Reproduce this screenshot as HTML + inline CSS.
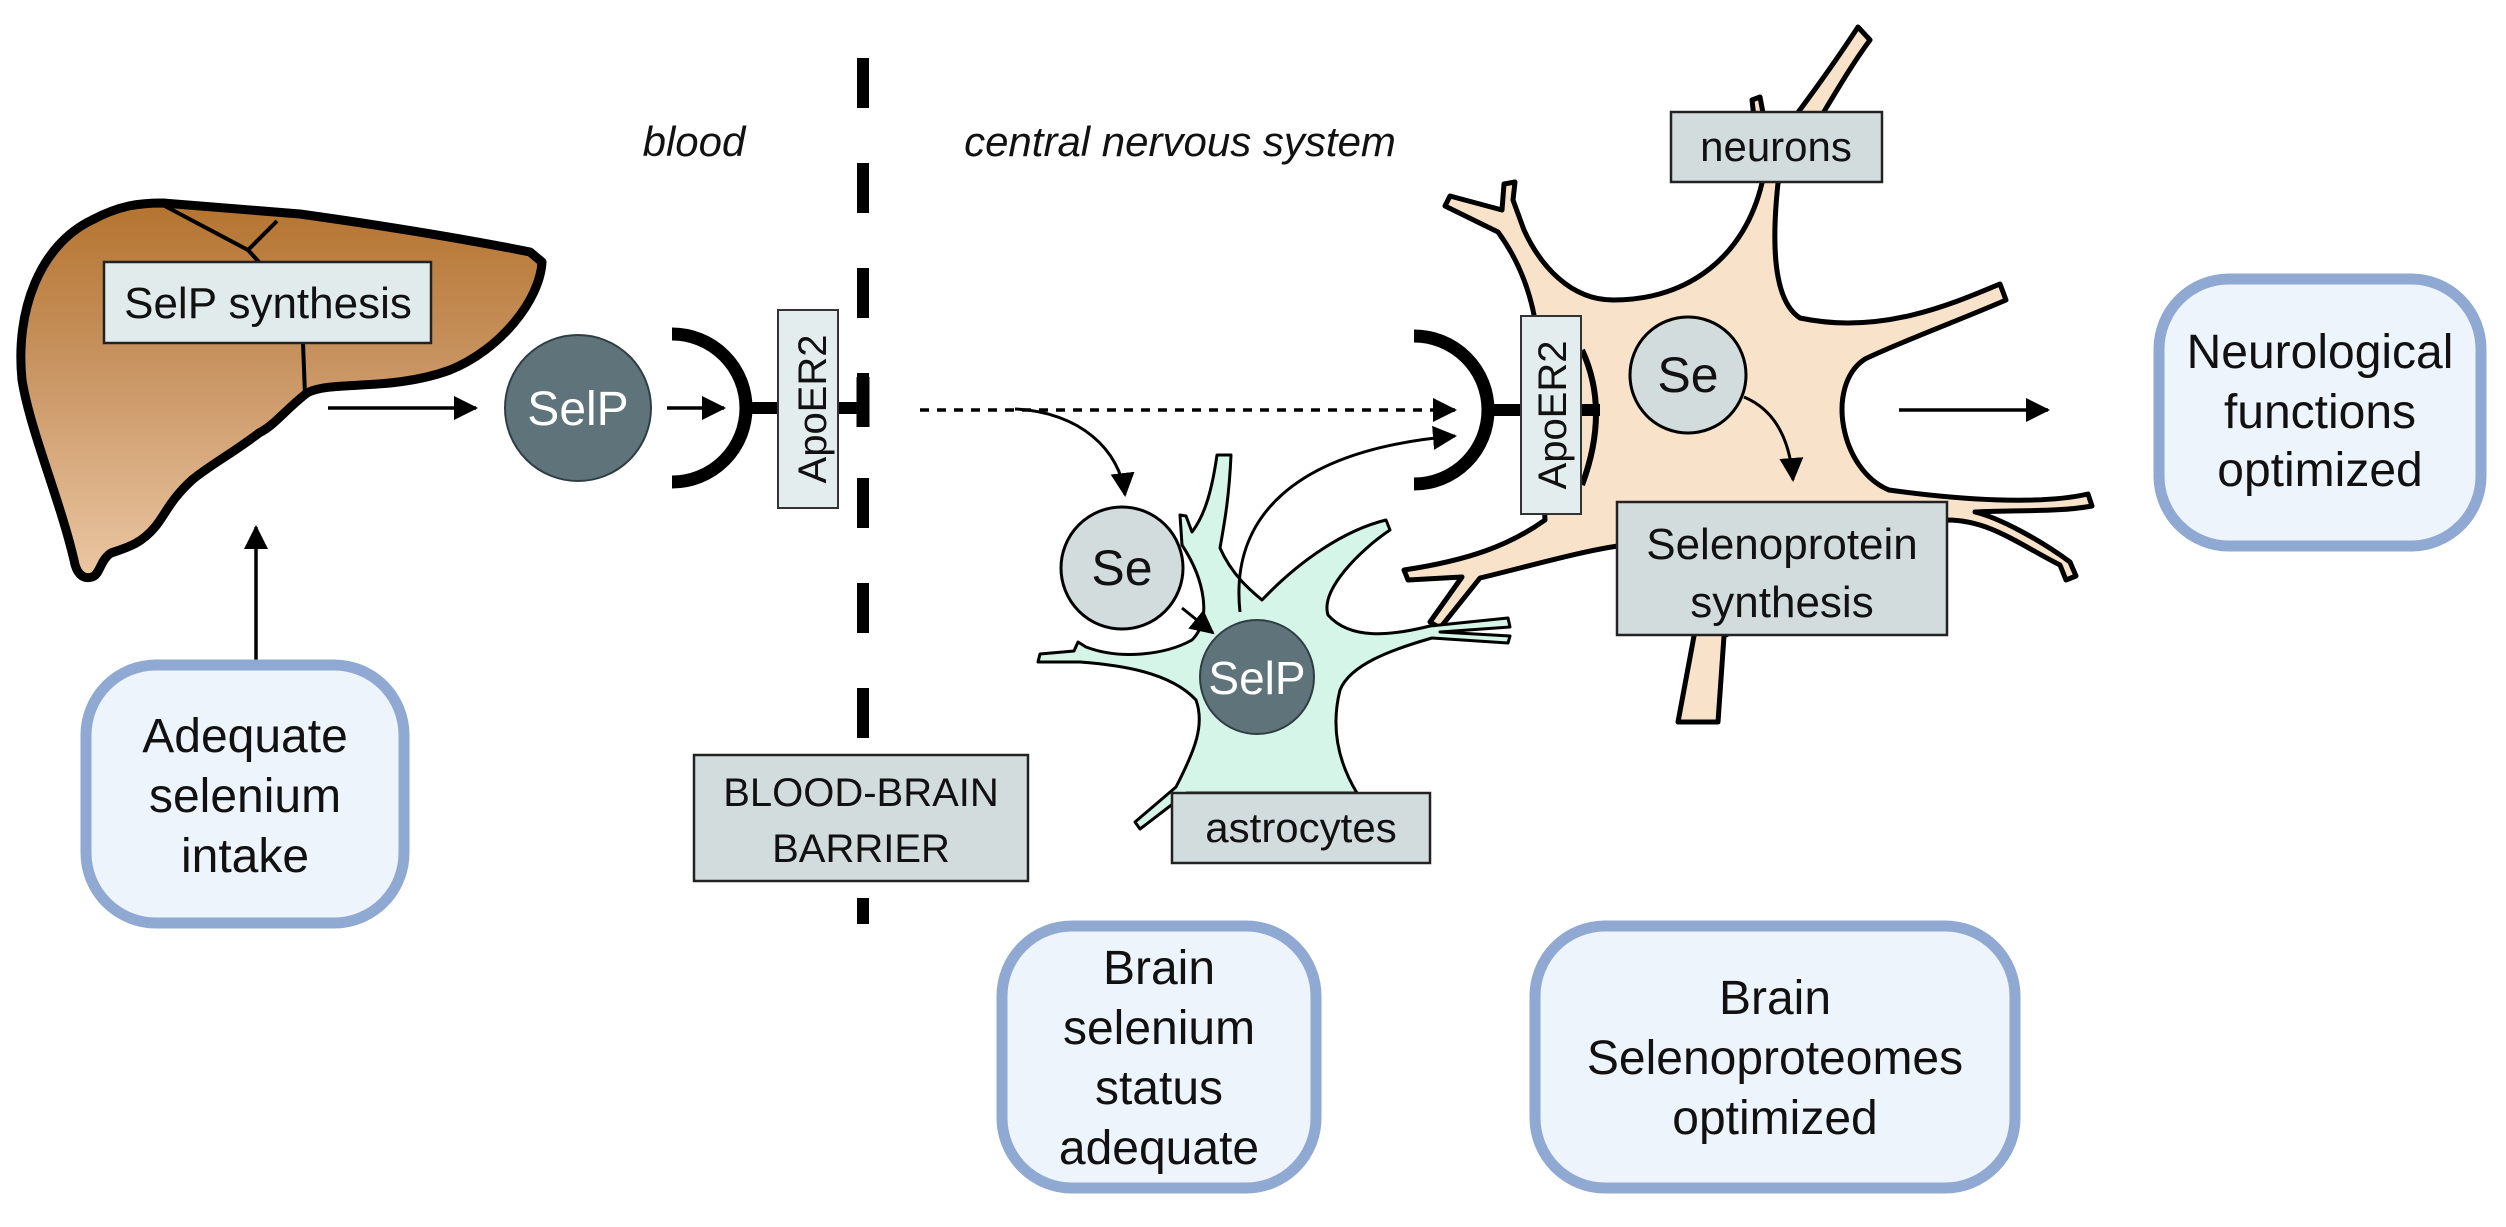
<!DOCTYPE html>
<html><head><meta charset="utf-8"><style>
html,body{margin:0;padding:0;background:#fff;}
svg{display:block;}
text{font-family:"Liberation Sans",sans-serif;}
</style></head><body>
<svg width="2506" height="1227" viewBox="0 0 2506 1227" xmlns="http://www.w3.org/2000/svg">
<defs>
<linearGradient id="lv" x1="0" y1="0" x2="0" y2="1">
<stop offset="0" stop-color="#b5742f"/><stop offset="0.45" stop-color="#c99563"/><stop offset="1" stop-color="#ebc7a3"/>
</linearGradient>
<marker id="ah" markerWidth="10" markerHeight="10" refX="9" refY="5" orient="auto" markerUnits="userSpaceOnUse" viewBox="0 0 10 10">
<path d="M0,0 L10,5 L0,10 Z" fill="#000"/></marker>
<marker id="ahb" markerWidth="24" markerHeight="24" refX="22" refY="12" orient="auto" markerUnits="userSpaceOnUse" viewBox="0 0 24 24">
<path d="M0,0 L24,12 L0,24 Z" fill="#000"/></marker>
</defs>

<!-- Liver -->
<path d="M92,220 C120,205 140,203 163,203 L300,214 C400,228 480,242 530,252 L542,262 C540,300 500,350 450,370 C390,392 330,380 307,393 C285,410 275,425 259,433 C230,455 210,465 192,480 C170,500 165,515 155,527 C140,545 125,548 111,553 C100,560 100,575 92,577 C82,580 76,572 74,560 C60,500 30,430 22,380 C15,310 40,245 92,220 Z" fill="url(#lv)" stroke="#000" stroke-width="9" stroke-linejoin="round"/>
<path d="M163,205 L248,250 L277,221" fill="none" stroke="#000" stroke-width="4"/>
<path d="M248,250 L259,262" fill="none" stroke="#000" stroke-width="4"/>
<path d="M303,343 L305,395" fill="none" stroke="#000" stroke-width="4"/>
<rect x="104" y="262" width="327" height="81" fill="#e1ebeb" stroke="#222" stroke-width="2.5"/>
<text x="268" y="318" font-size="44" text-anchor="middle" fill="#111">SelP synthesis</text>

<!-- arrows left -->
<line x1="328" y1="408" x2="476" y2="408" stroke="#000" stroke-width="3.5" marker-end="url(#ahb)"/>
<line x1="256" y1="672" x2="256" y2="527" stroke="#000" stroke-width="3.5" marker-end="url(#ahb)"/>

<!-- SelP circle -->
<circle cx="578" cy="408" r="73" fill="#5e747a" stroke="#2e3e42" stroke-width="2"/>
<text x="578" y="425" font-size="48" text-anchor="middle" fill="#fff">SelP</text>
<line x1="667" y1="408" x2="724" y2="408" stroke="#000" stroke-width="3.5" marker-end="url(#ahb)"/>

<!-- receptor left -->
<path d="M672,334 A74,74 0 0 1 672,482" fill="none" stroke="#000" stroke-width="13"/>
<line x1="746" y1="408" x2="863" y2="408" stroke="#000" stroke-width="12"/>
<line x1="863" y1="377" x2="863" y2="427" stroke="#000" stroke-width="13"/>
<rect x="778" y="310" width="60" height="198" fill="#e4eded" stroke="#333" stroke-width="2"/>
<text transform="translate(826,409) rotate(-90)" font-size="40" text-anchor="middle" fill="#111">ApoER2</text>

<!-- dashed barrier -->
<line x1="863" y1="58" x2="863" y2="924" stroke="#000" stroke-width="12" stroke-dasharray="50,55"/>

<text x="694" y="156" font-size="42" font-style="italic" text-anchor="middle" fill="#111">blood</text>
<text x="1180" y="156" font-size="42" font-style="italic" text-anchor="middle" fill="#111">central nervous system</text>

<rect x="694" y="755" width="334" height="126" fill="#d3dcdc" stroke="#222" stroke-width="2.5"/>
<text x="861" y="806" font-size="40" text-anchor="middle" fill="#111">BLOOD-BRAIN</text>
<text x="861" y="862" font-size="40" text-anchor="middle" fill="#111">BARRIER</text>

<!-- Neuron -->
<path d="M1762,183 C1745,255 1690,300 1613,300 C1570,300 1540,265 1524,230 L1513,200 L1515,182 L1504,184 L1502,210 L1450,196 L1445,206 L1498,232 C1520,262 1530,292 1535,320 L1545,520 C1510,545 1470,560 1404,570 L1408,580 L1462,577 L1430,622 L1440,628 L1480,578 C1530,566 1585,550 1625,545 L1694,636 L1678,722 L1718,722 L1724,636 L1947,520 C1990,520 2020,545 2060,565 L2066,580 L2076,576 L2070,562 C2040,540 2000,518 1975,512 C2020,510 2060,512 2092,506 L2088,494 C2040,505 1960,500 1889,490 C1840,470 1825,385 1865,359 C1905,340 1960,320 2006,300 L2000,284 C1950,305 1880,335 1800,318 C1772,300 1772,240 1778,183 C1810,140 1840,80 1870,40 L1858,27 C1830,70 1800,110 1770,150 L1760,97 L1752,100 L1760,170 Z" fill="#f9e2ca" stroke="#000" stroke-width="5" stroke-linejoin="round"/>
<rect x="1671" y="112" width="211" height="70" fill="#d3dcdc" stroke="#222" stroke-width="2.5"/>
<text x="1776" y="161" font-size="42" text-anchor="middle" fill="#111">neurons</text>

<!-- neuron receptor -->
<path d="M1414,336 A74,74 0 0 1 1414,484" fill="none" stroke="#000" stroke-width="13"/>
<line x1="1488" y1="410" x2="1600" y2="410" stroke="#000" stroke-width="12"/>
<path d="M1582,350 Q1610,410 1582,485" fill="none" stroke="#000" stroke-width="6"/>
<rect x="1521" y="316" width="60" height="198" fill="#e4eded" stroke="#333" stroke-width="2"/>
<text transform="translate(1566,415) rotate(-90)" font-size="40" text-anchor="middle" fill="#111">ApoER2</text>

<circle cx="1688" cy="375" r="58" fill="#d3dcdc" stroke="#000" stroke-width="3"/>
<text x="1688" y="392" font-size="50" text-anchor="middle" fill="#111">Se</text>
<path d="M1744,397 C1775,410 1790,440 1793,480" fill="none" stroke="#000" stroke-width="3" marker-end="url(#ahb)"/>

<rect x="1617" y="502" width="330" height="133" fill="#d3dcdc" stroke="#222" stroke-width="2.5"/>
<text x="1782" y="559" font-size="44" text-anchor="middle" fill="#111">Selenoprotein</text>
<text x="1782" y="617" font-size="44" text-anchor="middle" fill="#111">synthesis</text>

<line x1="1899" y1="410" x2="2048" y2="410" stroke="#000" stroke-width="3.5" marker-end="url(#ahb)"/>

<!-- Astrocyte -->
<path d="M1217,455 L1231,455 C1229,500 1224,525 1220,548 C1232,575 1250,590 1262,600 C1300,560 1345,530 1386,520 L1390,530 C1360,550 1320,590 1328,615 C1350,640 1390,636 1430,626 L1508,618 L1510,627 L1440,632 L1510,636 L1508,643 L1432,638 C1390,650 1350,665 1340,690 C1330,730 1340,765 1357,793 L1187,793 L1140,829 L1135,822 L1176,787 C1195,750 1205,725 1196,700 C1170,672 1120,665 1080,662 L1038,662 L1040,654 L1074,651 L1078,642 L1086,647 C1120,660 1165,655 1192,640 C1212,620 1205,580 1182,545 L1180,515 L1186,516 L1192,532 C1205,515 1212,490 1217,455 Z" fill="#d6f5e9" stroke="#000" stroke-width="3" stroke-linejoin="round"/>
<rect x="1172" y="793" width="258" height="70" fill="#d3dcdc" stroke="#222" stroke-width="2.5"/>
<text x="1301" y="842" font-size="42" text-anchor="middle" fill="#111">astrocytes</text>

<circle cx="1257" cy="677" r="57" fill="#5e747a" stroke="#2e3e42" stroke-width="2"/>
<text x="1257" y="694" font-size="46" text-anchor="middle" fill="#fff">SelP</text>

<circle cx="1122" cy="568" r="61" fill="#d3dcdc" stroke="#000" stroke-width="3"/>
<text x="1122" y="585" font-size="50" text-anchor="middle" fill="#111">Se</text>

<!-- dotted line & curves -->
<line x1="920" y1="410" x2="1455" y2="410" stroke="#000" stroke-width="3.5" stroke-dasharray="9,8" marker-end="url(#ahb)"/>
<path d="M1015,409 C1080,412 1120,450 1125,495" fill="none" stroke="#000" stroke-width="3" marker-end="url(#ahb)"/>
<path d="M1182,608 L1213,633" fill="none" stroke="#000" stroke-width="3" marker-end="url(#ahb)"/>
<path d="M1240,612 C1230,520 1290,450 1455,436" fill="none" stroke="#000" stroke-width="3" marker-end="url(#ahb)"/>

<!-- Rounded boxes -->
<rect x="86" y="665" width="318" height="258" rx="70" fill="#eef4fc" stroke="#8fa9d2" stroke-width="11"/>
<text x="245" y="752" font-size="48" text-anchor="middle" fill="#111">Adequate</text>
<text x="245" y="812" font-size="48" text-anchor="middle" fill="#111">selenium</text>
<text x="245" y="872" font-size="48" text-anchor="middle" fill="#111">intake</text>

<rect x="1002" y="926" width="314" height="262" rx="70" fill="#eef4fc" stroke="#8fa9d2" stroke-width="11"/>
<text x="1159" y="984" font-size="48" text-anchor="middle" fill="#111">Brain</text>
<text x="1159" y="1044" font-size="48" text-anchor="middle" fill="#111">selenium</text>
<text x="1159" y="1104" font-size="48" text-anchor="middle" fill="#111">status</text>
<text x="1159" y="1164" font-size="48" text-anchor="middle" fill="#111">adequate</text>

<rect x="1535" y="926" width="480" height="262" rx="70" fill="#eef4fc" stroke="#8fa9d2" stroke-width="11"/>
<text x="1775" y="1014" font-size="48" text-anchor="middle" fill="#111">Brain</text>
<text x="1775" y="1074" font-size="48" text-anchor="middle" fill="#111">Selenoproteomes</text>
<text x="1775" y="1134" font-size="48" text-anchor="middle" fill="#111">optimized</text>

<rect x="2159" y="279" width="322" height="267" rx="70" fill="#eef4fc" stroke="#8fa9d2" stroke-width="11"/>
<text x="2320" y="368" font-size="48" text-anchor="middle" fill="#111">Neurological</text>
<text x="2320" y="428" font-size="48" text-anchor="middle" fill="#111">functions</text>
<text x="2320" y="486" font-size="48" text-anchor="middle" fill="#111">optimized</text>
</svg>
</body></html>
